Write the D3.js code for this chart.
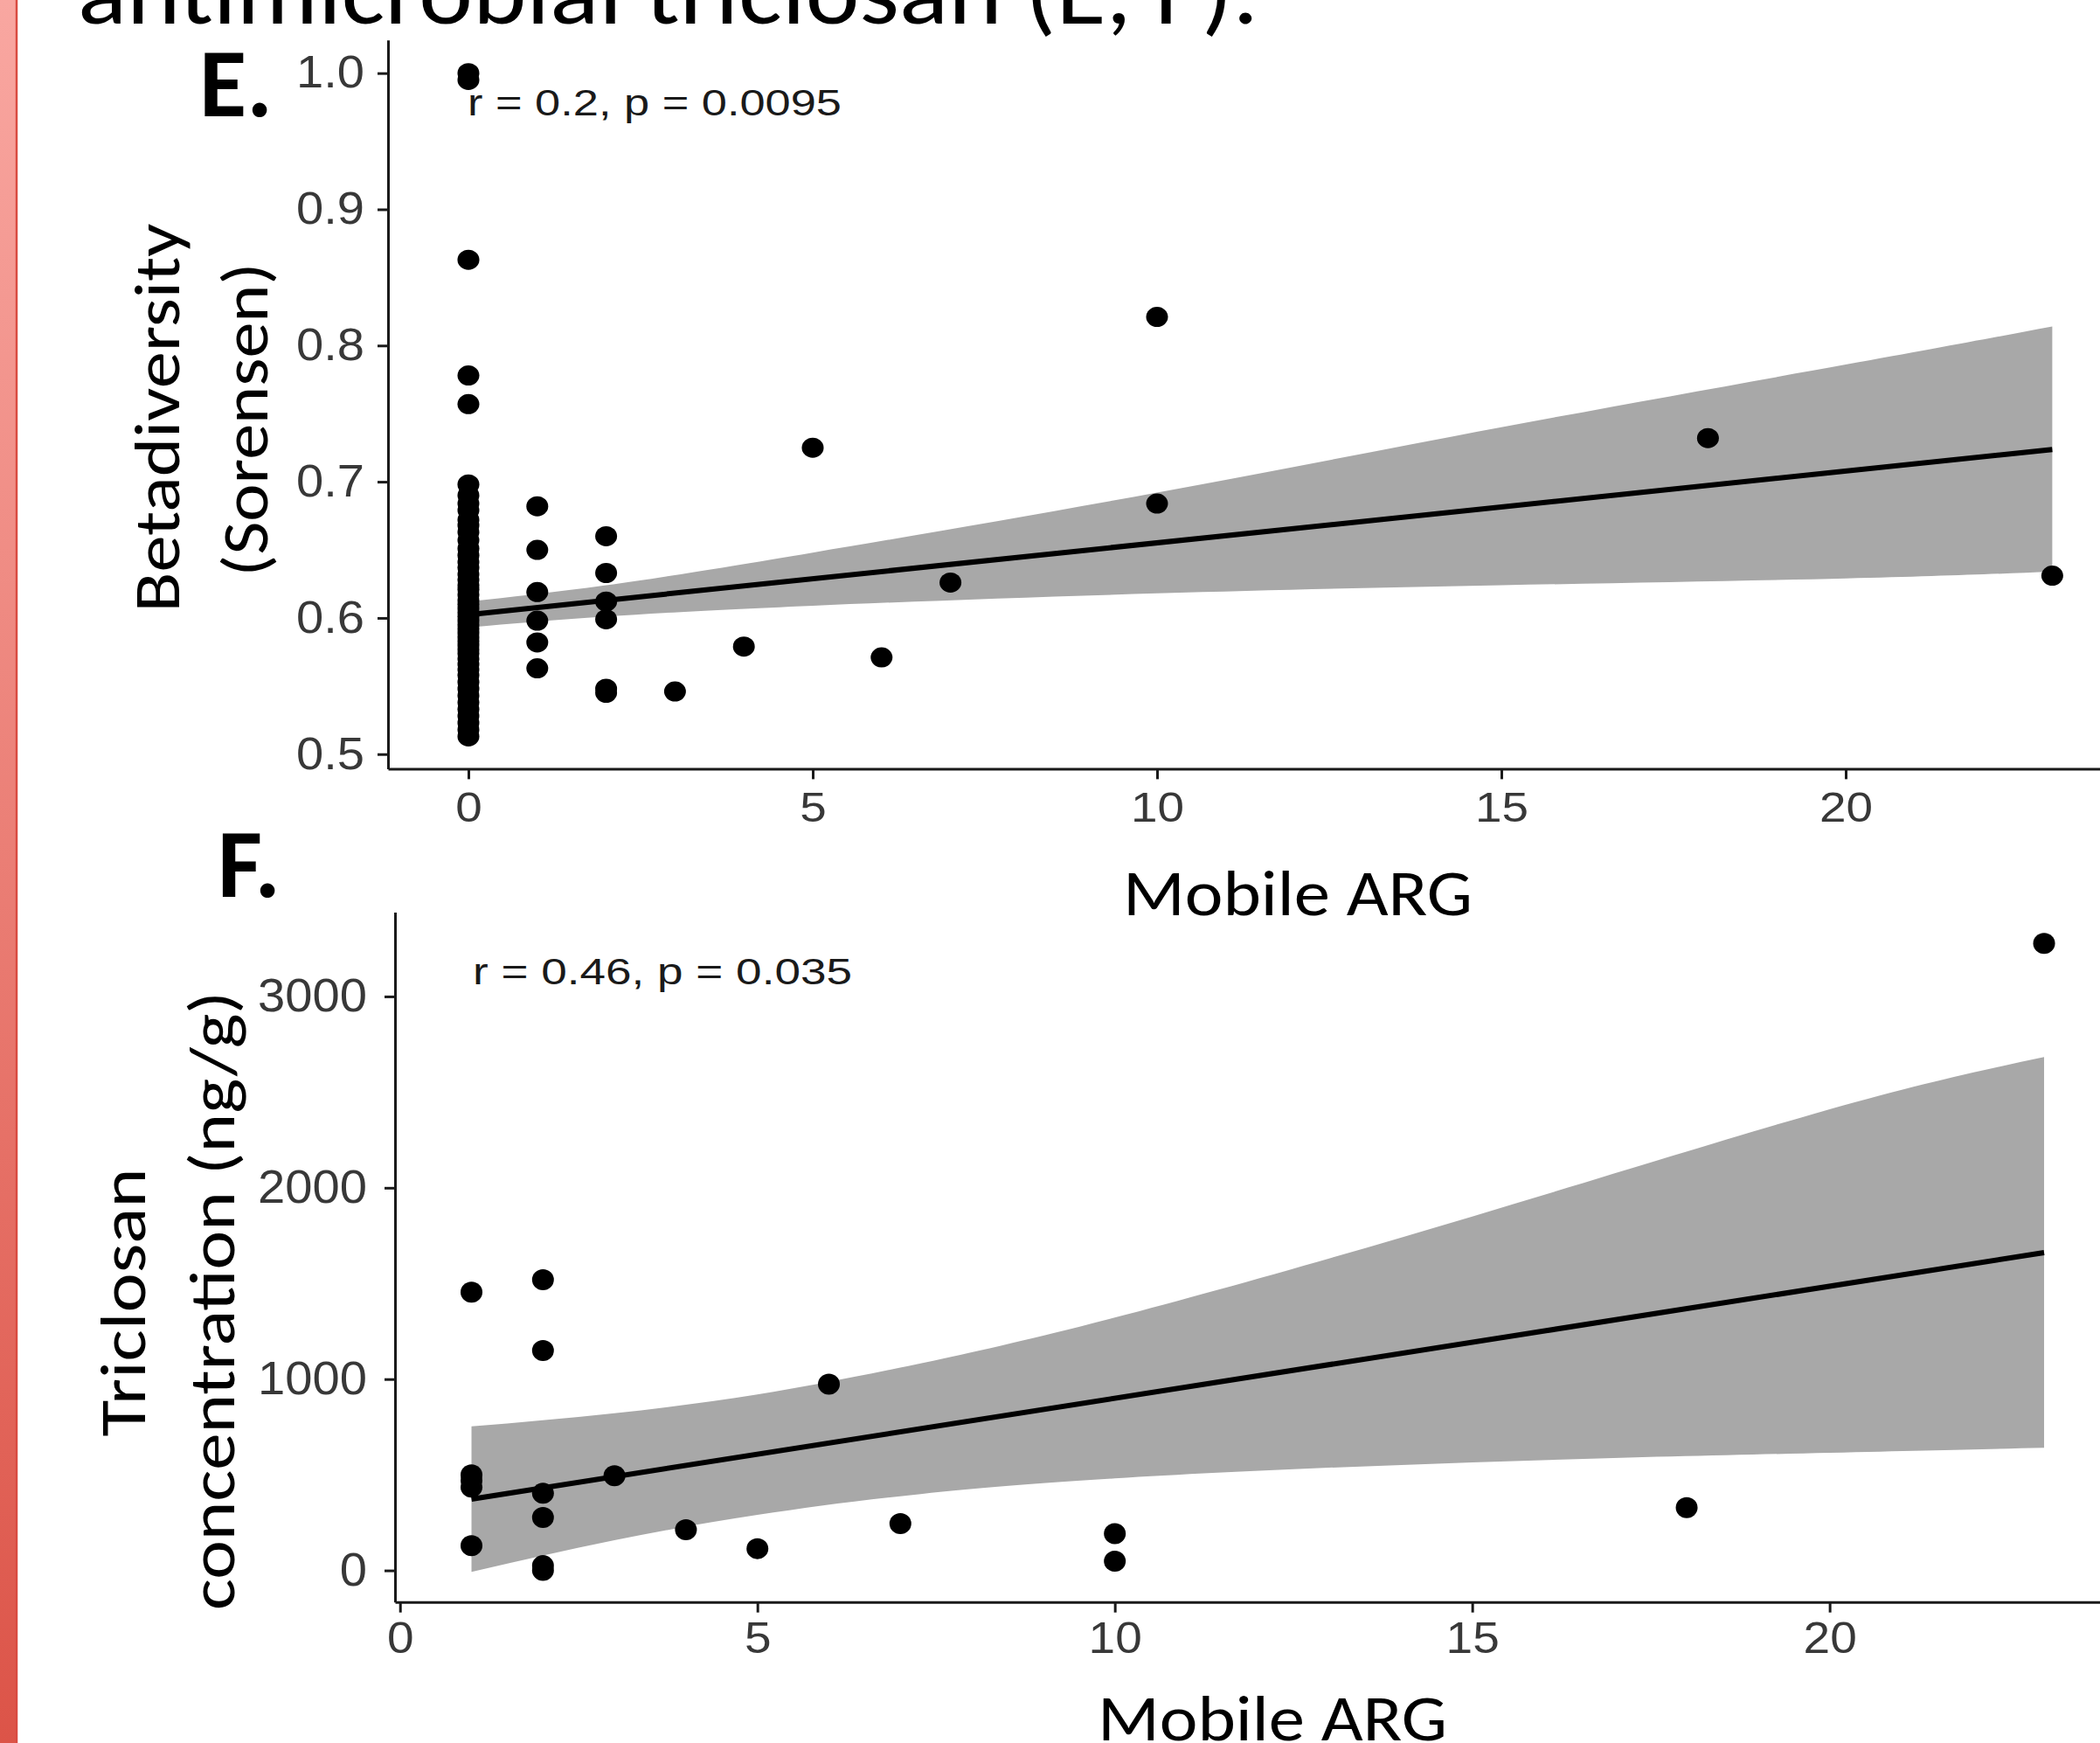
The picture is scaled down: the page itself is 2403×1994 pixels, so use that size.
<!DOCTYPE html>
<html>
<head>
<meta charset="utf-8">
<script src="https://cdn.jsdelivr.net/npm/d3@7"></script>
<style>
    body { margin: 0; background: #fff; }
    svg { display: block; }
</style>
</head>
<body>
<svg width="2403" height="1994"></svg>
<script>
// DATA ==========================================================================
// panel E: betadiversity (Sorensen) against mobile ARG count, one list per x column
const argE = [0, 1, 2, 3, 4, 5, 6, 7, 10, 18, 23];
const betaE = [
    [1.0, 0.995, 0.863, 0.778, 0.757,
     0.698, 0.690, 0.684, 0.679, 0.672, 0.668, 0.663, 0.657, 0.651, 0.646, 0.641,
     0.637, 0.632, 0.628, 0.624, 0.621, 0.617, 0.613, 0.610, 0.607, 0.604, 0.601,
     0.598, 0.595, 0.592, 0.589, 0.586, 0.583, 0.580, 0.577, 0.574, 0.570, 0.566,
     0.562, 0.558, 0.553, 0.548, 0.543, 0.538, 0.533, 0.528, 0.523, 0.518, 0.513],
    [0.682, 0.650, 0.619, 0.598, 0.582, 0.563],
    [0.660, 0.633, 0.612, 0.599, 0.548, 0.545],
    [0.546],
    [0.579],
    [0.725],
    [0.571],
    [0.626],
    [0.821, 0.684],
    [0.732],
    [0.631]
];
// lm fit and its confidence band
const fitXE = [0, 23];
const fitYE = [0.6024, 0.7237];
const bandXE = [0, 2, 5, 10, 15, 20, 23];
const bandLoE = [0.593, 0.601, 0.609, 0.618, 0.624, 0.629, 0.634];
const bandHiE = [0.612, 0.624, 0.648, 0.692, 0.740, 0.786, 0.814];
const ticksXE = [0, 5, 10, 15, 20];
const ticksYE = [0.5, 0.6, 0.7, 0.8, 0.9, 1.0];

// panel F: triclosan concentration (ng/g) against mobile ARG count
const argF = [1, 2, 3, 4, 5, 6, 7, 10, 18, 23];
const triF = [
    [1454, 500, 470, 435, 129],
    [1519, 1149, 403, 277, 25, 0],
    [495],
    [213],
    [114],
    [974],
    [245],
    [192, 48],
    [328],
    [3277]
];
const fitXF = [1, 23];
const fitYF = [373, 1661];
const bandXF = [1, 3, 5, 7, 10, 15, 20, 23];
const bandLoF = [-8, 158, 290, 388, 481, 565, 615, 641];
const bandHiF = [753, 822, 920, 1060, 1322, 1850, 2410, 2683];
const ticksXF = [0, 5, 10, 15, 20];
const ticksYF = [0, 1000, 2000, 3000];

// LAYOUT ========================================================================
const W = 2403, H = 1994;
const SLIDE_FONT = "Carlito, Calibri, Lato, sans-serif";
const PLOT_FONT = "'Liberation Sans', Arial, Helvetica, sans-serif";

const svg = d3.select('svg');

svg.append('rect').attr('width', W).attr('height', H).attr('fill', '#fff');

// red strip on the slide's left edge
let grad = svg.append('defs').append('linearGradient')
    .attr('id', 'strip').attr('x1', 0).attr('y1', 0).attr('x2', 0).attr('y2', 1);
grad.append('stop').attr('offset', '0%').attr('stop-color', '#f9a7a1');
grad.append('stop').attr('offset', '100%').attr('stop-color', '#dc5448');
svg.append('rect').attr('x', 0).attr('y', 0).attr('width', 18).attr('height', H)
    .attr('fill', 'url(#strip)');
svg.append('line').attr('x1', 19).attr('x2', 19).attr('y1', 0).attr('y2', H)
    .attr('stroke', '#d94b41').attr('stroke-width', 2.5);

// slide title, cut by the top edge
svg.append('text')
    .attr('x', 89).attr('y', 27)
    .attr('font-family', SLIDE_FONT).attr('font-size', 107)
    .attr('textLength', 1351).attr('lengthAdjust', 'spacingAndGlyphs')
    .text('antimicrobial triclosan (E, F).');

// PANELS ========================================================================
const panelE = {
    x: d3.scaleLinear().domain([-1.1675, 24.15]).range([444, 2439]),
    y: d3.scaleLinear().domain([0.4893, 1.0243]).range([879.4, 45.8]),
    cols: argE, vals: betaE,
    fitX: fitXE, fitY: fitYE,
    bandX: bandXE, bandLo: bandLoE, bandHi: bandHiE,
    ticksX: ticksXE, ticksY: ticksYE,
    fmtY: d3.format('.1f'),
    rx: 12.5, ry: 11.5,
    tickFontX: 49, tickFontY: 51, stretchX: 1.12, stretchY: 1.1,
    padX: 26, padY: 27,
    note: 'r = 0.2, p = 0.0095', noteX: 535, noteY: 132, noteLen: 428,
    letter: 'E.', letterX: 228, letterY: 133
};

const panelF = {
    x: d3.scaleLinear().domain([-0.07, 24.1]).range([452, 2429]),
    y: d3.scaleLinear().domain([-165, 3441]).range([1832.7, 1043.4]),
    cols: argF, vals: triF,
    fitX: fitXF, fitY: fitYF,
    bandX: bandXF, bandLo: bandLoF, bandHi: bandHiF,
    ticksX: ticksXF, ticksY: ticksYF,
    fmtY: d3.format('d'),
    rx: 12.5, ry: 12,
    tickFontX: 50, tickFontY: 53, stretchX: 1.1, stretchY: 1.06,
    padX: 23, padY: 32,
    note: 'r = 0.46, p = 0.035', noteX: 541, noteY: 1126, noteLen: 434,
    letter: 'F.', letterX: 249, letterY: 1026
};

drawPanel(panelE);
drawPanel(panelF);

// axis titles (slide text, Calibri-like)
axisTitle('Mobile ARG', 1485, 1047, 400, false);
axisTitle('Mobile ARG', 1456, 1991, 400, false);
axisTitle('Betadiversity', 205, 478, 445, true);
axisTitle('(Sorensen)', 306, 480, 359, true);
axisTitle('Triclosan', 166, 1490, 307, true);
axisTitle('concentration (ng/g)', 268, 1488, 708, true);

function axisTitle(label, x, y, len, vertical) {
    svg.append('text')
        .attr('transform', vertical ? `translate(${x},${y}) rotate(-90)` : `translate(${x},${y})`)
        .attr('text-anchor', 'middle')
        .attr('font-family', SLIDE_FONT).attr('font-size', 75)
        .attr('textLength', len).attr('lengthAdjust', 'spacingAndGlyphs')
        .attr('fill', '#000')
        .text(label);
}

function drawPanel(p) {
    let g = svg.append('g');
    let x0 = p.x.range()[0], y0 = p.y.range()[0];

    // confidence band
    let band = p.bandX.map((bx, i) => ({ x: bx, lo: p.bandLo[i], hi: p.bandHi[i] }));
    g.append('path')
        .datum(band)
        .attr('fill', '#a8a8a8')
        .attr('d', d3.area()
            .x(d => p.x(d.x))
            .y0(d => p.y(d.lo))
            .y1(d => p.y(d.hi))
            .curve(d3.curveNatural));

    // fitted line
    g.append('path')
        .datum(p.fitX.map((fx, i) => [fx, p.fitY[i]]))
        .attr('fill', 'none')
        .attr('stroke', '#000')
        .attr('stroke-width', 6)
        .attr('d', d3.line().x(d => p.x(d[0])).y(d => p.y(d[1])));

    // points
    let pts = p.cols.flatMap((c, i) => p.vals[i].map(v => [c, v]));
    g.selectAll('ellipse')
        .data(pts)
        .join('ellipse')
        .attr('cx', d => p.x(d[0]))
        .attr('cy', d => p.y(d[1]))
        .attr('rx', p.rx)
        .attr('ry', p.ry)
        .attr('fill', '#000');

    // axes
    let xAxis = g.append('g')
        .attr('transform', `translate(0,${y0})`)
        .call(d3.axisBottom(p.x).tickValues(p.ticksX).tickFormat(d3.format('d'))
            .tickSize(12).tickSizeOuter(0));
    let yAxis = g.append('g')
        .attr('transform', `translate(${x0},0)`)
        .call(d3.axisLeft(p.y).tickValues(p.ticksY).tickFormat(p.fmtY)
            .tickSize(12).tickSizeOuter(0));

    [xAxis, yAxis].forEach(a => {
        a.attr('color', '#1a1a1a')
            .attr('font-family', PLOT_FONT);
        a.selectAll('path, line').attr('stroke-width', 3);
        a.selectAll('text').attr('fill', '#383838');
    });

    xAxis.attr('font-size', p.tickFontX);
    xAxis.selectAll('text')
        .attr('y', 0)
        .attr('transform', `translate(0,${p.padX}) scale(${p.stretchX},1)`);

    yAxis.attr('font-size', p.tickFontY);
    yAxis.selectAll('text')
        .attr('x', 0)
        .attr('transform', `translate(${-p.padY},0) scale(${p.stretchY},1)`);

    // correlation note
    g.append('text')
        .attr('x', p.noteX).attr('y', p.noteY)
        .attr('font-family', PLOT_FONT).attr('font-size', 42)
        .attr('textLength', p.noteLen).attr('lengthAdjust', 'spacingAndGlyphs')
        .attr('fill', '#1a1a1a')
        .text(p.note);

    // panel letter
    svg.append('text')
        .attr('x', p.letterX).attr('y', p.letterY)
        .attr('font-family', SLIDE_FONT).attr('font-weight', 'bold').attr('font-size', 111)
        .attr('fill', '#000')
        .text(p.letter);
}
</script>
</body>
</html>
